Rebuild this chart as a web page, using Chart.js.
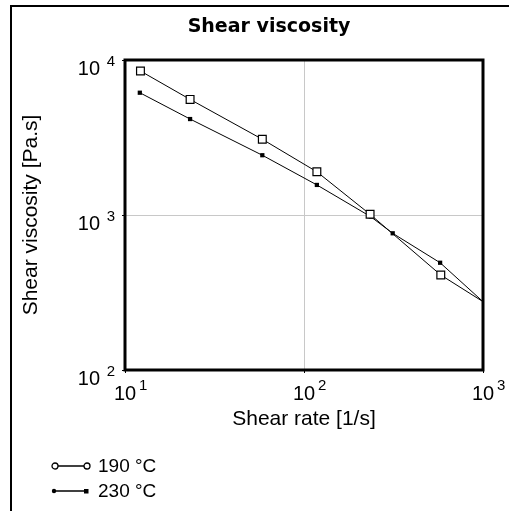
<!DOCTYPE html>
<html>
<head>
<meta charset="utf-8">
<script src="https://cdn.jsdelivr.net/npm/chart.js@4/dist/chart.umd.min.js"></script>
<style>
  body { margin: 0; background: #fff; }
  #wrap { position: relative; width: 509px; height: 511px; overflow: hidden; }
  #frame { position: absolute; left: 10px; top: 5px; width: 600px; height: 600px;
           border-left: 2px solid #000; border-top: 2px solid #000; pointer-events: none; }
  #title { position: absolute; left: 0; top: 14px; width: 538px; text-align: center;
           font: bold 19px/23px "DejaVu Sans", sans-serif; color: #000; }
  #legend { position: absolute; left: 50px; top: 453px; font: 19px "Liberation Sans", Arial, sans-serif; color: #000; }
  #legend div { height: 25px; display: flex; align-items: center; }
  #legend svg { margin-right: 6px; }
</style>
</head>
<body>
<div id="wrap">
  <canvas id="myChart" width="509" height="511"></canvas>
  <div id="frame"></div>
  <div id="title"></div>
  <div id="legend"></div>
</div>
<script>
// shear rate [1/s] and viscosity [Pa.s]
var rate190 = [12.2, 23.1, 58.5, 118, 234, 581, 1000];
var visc190 = [8490, 5570, 3080, 1900, 1010, 410, 276];
var rate230 = [12.1, 23.1, 58.5, 118, 236, 313, 576, 1000];
var visc230 = [6150, 4160, 2430, 1563, 975, 762, 492, 276];
var seriesLabels = ['190 °C', '230 °C'];
var xTicks = [10, 100, 1000];
var yTicks = [100, 1000, 10000];
var chartTitle = 'Shear viscosity';

var FONT = '"Liberation Sans", Arial, sans-serif';

function pts(xs, ys) {
  return xs.map(function (x, i) { return { x: x, y: ys[i] }; });
}
// hide marker of the last point (it sits on the frame)
function lastHidden(r) {
  return function (ctx) {
    return ctx.dataIndex === ctx.dataset.data.length - 1 ? 0 : r;
  };
}
function keepTicks(list) {
  return function (s) { s.ticks = list.map(function (v) { return { value: v }; }); };
}

// thick box round the plot area
var frame = {
  id: 'frame',
  afterDatasetsDraw: function (chart) {
    var a = chart.chartArea, c = chart.ctx;
    c.save();
    c.strokeStyle = '#000';
    c.lineWidth = 3;
    c.strokeRect(a.left, a.top, a.right - a.left, a.bottom - a.top);
    c.restore();
  }
};

// tick labels as 10 with a raised exponent
var powerLabels = {
  id: 'powerLabels',
  afterDraw: function (chart) {
    var c = chart.ctx;
    var xs = chart.scales.x, ys = chart.scales.y;
    var base = '20px ' + FONT, small = '15px ' + FONT;
    c.save();
    c.fillStyle = '#000';
    c.textBaseline = 'alphabetic';
    xTicks.forEach(function (v) {
      var px = xs.getPixelForValue(v);
      var e = String(Math.round(Math.log10(v)));
      c.font = base;
      c.textAlign = 'center';
      var w = c.measureText('10').width;
      c.fillText('10', px, xs.top + 30);
      c.font = small;
      c.textAlign = 'left';
      c.fillText(e, px + w / 2 + 3, xs.top + 20);
    });
    yTicks.forEach(function (v) {
      var py = ys.getPixelForValue(v);
      var e = String(Math.round(Math.log10(v)));
      c.font = base;
      c.textAlign = 'right';
      c.fillText('10', ys.right - 25, py + 15);
      c.font = small;
      c.textAlign = 'right';
      c.fillText(e, ys.right - 10, py + 6);
    });
    c.restore();
  }
};

document.getElementById('title').textContent = chartTitle;

var ctx = document.getElementById('myChart').getContext('2d');
var chart = new Chart(ctx, {
  type: 'scatter',
  data: {
    datasets: [
      {
        label: seriesLabels[0],
        data: pts(rate190, visc190),
        showLine: true,
        borderColor: '#000',
        borderWidth: 1,
        backgroundColor: '#fff',
        pointStyle: 'rect',
        pointRadius: lastHidden(5.5),
        pointBorderColor: '#000',
        pointBorderWidth: 1.2,
        pointBackgroundColor: '#fff'
      },
      {
        label: seriesLabels[1],
        data: pts(rate230, visc230),
        showLine: true,
        borderColor: '#000',
        borderWidth: 1,
        backgroundColor: '#000',
        pointStyle: 'rect',
        pointRadius: lastHidden(3),
        pointBorderWidth: 0,
        pointBackgroundColor: '#000'
      }
    ]
  },
  options: {
    responsive: false,
    animation: false,
    layout: { padding: { left: 12, right: 26, top: 60, bottom: 79 } },
    plugins: {
      legend: { display: false },
      tooltip: { enabled: false },
      title: { display: false }
    },
    scales: {
      x: {
        type: 'logarithmic',
        min: 10,
        max: 1000,
        afterBuildTicks: keepTicks(xTicks),
        afterFit: function (s) { s.height = 62; },
        border: { display: false },
        grid: {
          color: function (c) { return c.tick && c.tick.value === 100 ? '#c8c8c8' : 'rgba(0,0,0,0)'; },
          tickColor: '#000',
          tickLength: 3,
          lineWidth: 1
        },
        ticks: { display: false },
        title: {
          display: true,
          text: 'Shear rate [1/s]',
          color: '#000',
          font: { family: FONT, size: 21, lineHeight: 1.2 },
          padding: { top: 0, bottom: 0 }
        }
      },
      y: {
        type: 'logarithmic',
        min: 100,
        max: 10000,
        afterBuildTicks: keepTicks(yTicks),
        afterFit: function (s) { s.width = 113; },
        border: { display: false },
        grid: {
          color: function (c) { return c.tick && c.tick.value === 1000 ? '#c8c8c8' : 'rgba(0,0,0,0)'; },
          tickColor: '#000',
          tickLength: 3,
          lineWidth: 1
        },
        ticks: { display: false },
        title: {
          display: true,
          text: 'Shear viscosity [Pa.s]',
          color: '#000',
          font: { family: FONT, size: 21, lineHeight: 1.2 },
          padding: { top: 7, bottom: 0 }
        }
      }
    }
  },
  plugins: [frame, powerLabels]
});

// legend: line with end markers, like the original
var legend = document.getElementById('legend');
chart.data.datasets.forEach(function (ds, i) {
  var row = document.createElement('div');
  var svg;
  if (i === 0) {
    svg = '<svg width="42" height="10"><line x1="5" y1="5" x2="37" y2="5" stroke="#000" stroke-width="1.5"/>' +
      '<circle cx="5" cy="5" r="3" fill="#fff" stroke="#000" stroke-width="1.3"/>' +
      '<circle cx="37" cy="5" r="3" fill="#fff" stroke="#000" stroke-width="1.3"/></svg>';
  } else {
    svg = '<svg width="42" height="10"><line x1="4" y1="5" x2="37" y2="5" stroke="#000" stroke-width="1.5"/>' +
      '<circle cx="4" cy="5" r="2.2" fill="#000"/>' +
      '<rect x="34" y="3" width="4.5" height="4.5" fill="#000"/></svg>';
  }
  row.innerHTML = svg + '<span>' + ds.label + '</span>';
  legend.appendChild(row);
});
</script>
</body>
</html>
